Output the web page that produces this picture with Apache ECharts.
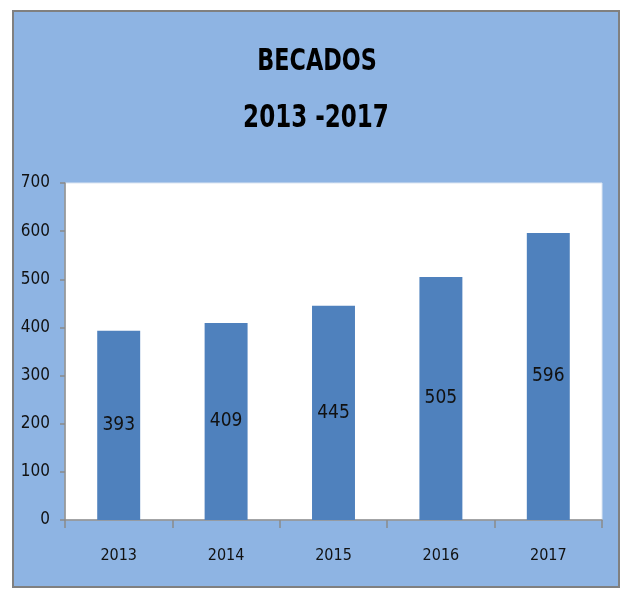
<!DOCTYPE html>
<html>
<head>
<meta charset="utf-8">
<script src="https://cdn.jsdelivr.net/npm/echarts@6/dist/echarts.min.js"></script>
<style>
html,body{margin:0;padding:0;background:#ffffff;}
#main{width:621px;height:592px;}
</style>
</head>
<body>
<div id="main"></div>
<script>
var titleLines = ['BECADOS', '2013 -2017'];
var categories = ['2013', '2014', '2015', '2016', '2017'];
var becados = [393, 409, 445, 505, 596];
var yTicks = [0, 100, 200, 300, 400, 500, 600, 700];

var FONT = '"DejaVu Sans Condensed", "Liberation Sans Narrow", sans-serif';
var chart = echarts.init(document.getElementById('main'), null, {renderer: 'canvas'});
chart.setOption({
  backgroundColor: '#ffffff',
  animation: false,
  graphic: [{
    type: 'rect',
    z: -10,
    silent: true,
    shape: {x: 13, y: 11, width: 606, height: 576},
    style: {fill: '#8EB4E3', stroke: '#808080', lineWidth: 2}
  }, {
    type: 'text',
    x: 317, y: 62,
    scaleX: 0.8,
    silent: true,
    style: {
      text: titleLines[0],
      fontFamily: FONT, fontWeight: 'bold', fontSize: 31,
      fill: '#000000', align: 'center', verticalAlign: 'middle'
    }
  }, {
    type: 'text',
    x: 316, y: 119,
    scaleX: 0.8,
    silent: true,
    style: {
      text: titleLines[1],
      fontFamily: FONT, fontWeight: 'bold', fontSize: 32,
      fill: '#000000', align: 'center', verticalAlign: 'middle'
    }
  }],
  grid: {
    left: 65, right: 19, top: 183, bottom: 72,
    show: true,
    backgroundColor: '#ffffff',
    borderColor: '#dce6f2',
    borderWidth: 1
  },
  xAxis: {
    type: 'category',
    data: categories,
    axisLine: {show: true, lineStyle: {color: '#8a8a8a', width: 1.5}},
    axisTick: {show: true, length: 8, alignWithLabel: false, lineStyle: {color: '#8a8a8a', width: 1.5}},
    axisLabel: {fontFamily: FONT, fontSize: 16, color: '#111111', margin: 28}
  },
  yAxis: {
    type: 'value',
    min: yTicks[0],
    max: yTicks[yTicks.length - 1],
    interval: 100,
    axisLine: {show: true, lineStyle: {color: '#8a8a8a', width: 1.5}},
    axisTick: {show: true, length: 5, lineStyle: {color: '#8a8a8a', width: 1.5}},
    splitLine: {show: false},
    axisLabel: {fontFamily: FONT, fontSize: 17, color: '#111111', margin: 15}
  },
  series: [{
    type: 'bar',
    data: becados,
    barWidth: '40%',
    itemStyle: {color: '#4F81BD'},
    label: {
      show: true,
      position: 'inside',
      fontFamily: FONT,
      fontSize: 19,
      color: '#111111'
    }
  }]
});
</script>
</body>
</html>
